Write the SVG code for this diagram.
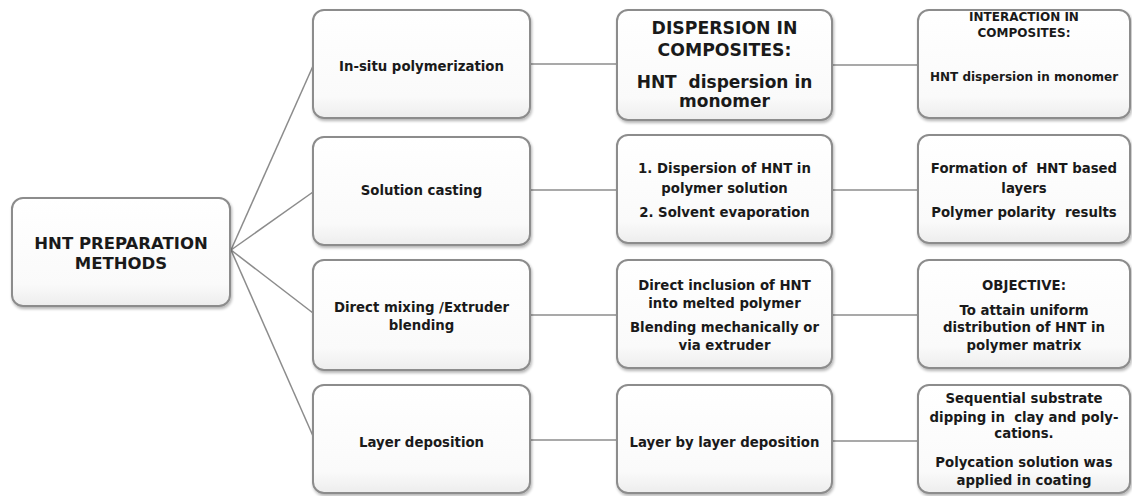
<svg xmlns="http://www.w3.org/2000/svg" width="1132" height="496" viewBox="0 0 1132 496">
<defs>
<linearGradient id="bg" x1="0" y1="0" x2="0" y2="1">
<stop offset="0" stop-color="#ffffff"/>
<stop offset="0.8" stop-color="#fafafa"/>
<stop offset="1" stop-color="#ededed"/>
</linearGradient>
<filter id="sh" x="-5%" y="-5%" width="112%" height="115%">
<feGaussianBlur in="SourceAlpha" stdDeviation="1.5"/>
<feOffset dx="1" dy="2" result="b"/>
<feComponentTransfer><feFuncA type="linear" slope="0.3"/></feComponentTransfer>
<feMerge><feMergeNode/><feMergeNode in="SourceGraphic"/></feMerge>
</filter>
</defs>
<style>
.box{fill:url(#bg);stroke:#8c8c8c;stroke-width:2;filter:url(#sh)}
.t{font-family:"DejaVu Sans",Verdana,sans-serif;font-weight:bold;fill:#1a1a1a;text-anchor:middle;dominant-baseline:central;white-space:pre}
.s13{font-size:13.3px}
.s12{font-size:12px}
.s16{font-size:16.5px}
.s17{font-size:17px}
.s17b{font-size:17.3px}
.c{stroke:#8c8c8c;stroke-width:1.5;fill:none}
</style>
<rect width="1132" height="496" fill="#ffffff"/>
<g id="connectors">
<line class="c" x1="231" y1="250" x2="313" y2="66"/>
<line class="c" x1="231" y1="250" x2="313" y2="192"/>
<line class="c" x1="231" y1="250" x2="313" y2="313"/>
<line class="c" x1="231" y1="250" x2="313" y2="436"/>
<line class="c" x1="530" y1="64" x2="617" y2="64"/>
<line class="c" x1="530" y1="190" x2="617" y2="190"/>
<line class="c" x1="530" y1="315" x2="617" y2="315"/>
<line class="c" x1="530" y1="440" x2="617" y2="440"/>
<line class="c" x1="832" y1="65" x2="918" y2="65"/>
<line class="c" x1="832" y1="190" x2="918" y2="190"/>
<line class="c" x1="832" y1="315" x2="918" y2="315"/>
<line class="c" x1="832" y1="441" x2="918" y2="441"/>
</g>
<g id="root">
<rect class="box" x="12" y="198" width="218" height="108" rx="11"/>
<text class="t s16" x="121" y="243">HNT PREPARATION</text>
<text class="t s16" x="121" y="263">METHODS</text>
</g>
<g id="m1">
<rect class="box" x="313" y="10" width="217" height="108" rx="11"/>
<text class="t s13" x="421.5" y="66">In-situ polymerization</text>
</g>
<g id="m2">
<rect class="box" x="313" y="137" width="217" height="108" rx="11"/>
<text class="t s13" x="421.5" y="190">Solution casting</text>
</g>
<g id="m3">
<rect class="box" x="313" y="260" width="217" height="110" rx="11"/>
<text class="t s13" x="421.5" y="307">Direct mixing /Extruder</text>
<text class="t s13" x="421.5" y="325">blending</text>
</g>
<g id="m4">
<rect class="box" x="313" y="385" width="217" height="108" rx="11"/>
<text class="t s13" x="421.5" y="442">Layer deposition</text>
</g>
<g id="d1">
<rect class="box" x="617" y="10" width="215" height="110" rx="11"/>
<text class="t s17b" x="724.5" y="28">DISPERSION IN</text>
<text class="t s17b" x="724.5" y="50">COMPOSITES:</text>
<text class="t s17" x="724.5" y="82">HNT  dispersion in</text>
<text class="t s17" x="724.5" y="101">monomer</text>
</g>
<g id="d2">
<rect class="box" x="617" y="135" width="215" height="108" rx="11"/>
<text class="t s13" x="724.5" y="168">1. Dispersion of HNT in</text>
<text class="t s13" x="724.5" y="188">polymer solution</text>
<text class="t s13" x="724.5" y="212">2. Solvent evaporation</text>
</g>
<g id="d3">
<rect class="box" x="617" y="260" width="215" height="108" rx="11"/>
<text class="t s13" x="724.5" y="285">Direct inclusion of HNT</text>
<text class="t s13" x="724.5" y="303">into melted polymer</text>
<text class="t s13" x="724.5" y="327">Blending mechanically or</text>
<text class="t s13" x="724.5" y="345">via extruder</text>
</g>
<g id="d4">
<rect class="box" x="617" y="385" width="215" height="108" rx="11"/>
<text class="t s13" x="724.5" y="442">Layer by layer deposition</text>
</g>
<g id="i1">
<rect class="box" x="918" y="10" width="212" height="108" rx="11"/>
<text class="t s12" x="1024" y="17">INTERACTION IN</text>
<text class="t s12" x="1024" y="33">COMPOSITES:</text>
<text class="t s12" x="1024" y="77">HNT dispersion in monomer</text>
</g>
<g id="i2">
<rect class="box" x="918" y="135" width="212" height="108" rx="11"/>
<text class="t s13" x="1024" y="168">Formation of  HNT based</text>
<text class="t s13" x="1024" y="188">layers</text>
<text class="t s13" x="1024" y="212">Polymer polarity  results</text>
</g>
<g id="i3">
<rect class="box" x="918" y="260" width="212" height="108" rx="11"/>
<text class="t s13" x="1024" y="285">OBJECTIVE:</text>
<text class="t s13" x="1024" y="310">To attain uniform</text>
<text class="t s13" x="1024" y="327">distribution of HNT in</text>
<text class="t s13" x="1024" y="345">polymer matrix</text>
</g>
<g id="i4">
<rect class="box" x="918" y="385" width="212" height="108" rx="11"/>
<text class="t s13" x="1024" y="398">Sequential substrate</text>
<text class="t s13" x="1024" y="417">dipping in  clay and poly-</text>
<text class="t s13" x="1024" y="433">cations.</text>
<text class="t s13" x="1024" y="462">Polycation solution was</text>
<text class="t s13" x="1024" y="480">applied in coating</text>
</g>
</svg>
